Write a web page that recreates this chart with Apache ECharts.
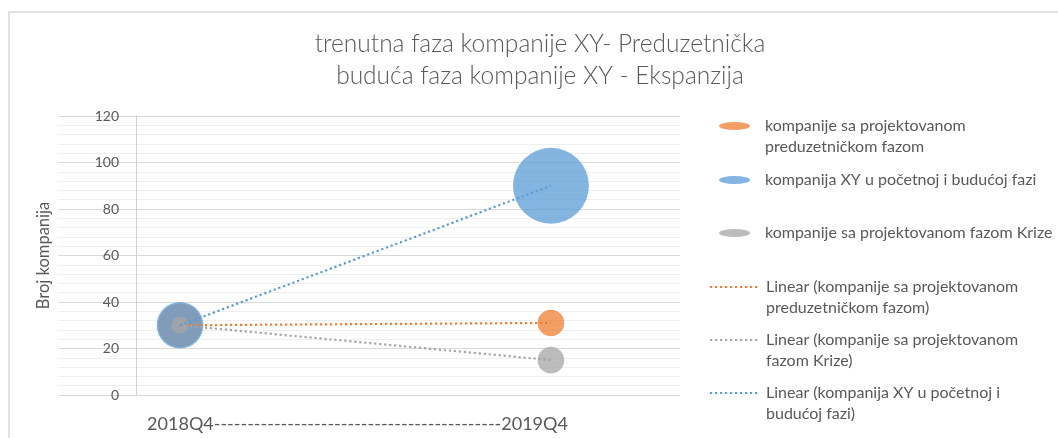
<!DOCTYPE html>
<html>
<head>
<meta charset="utf-8">
<script src="https://cdn.jsdelivr.net/npm/echarts@6/dist/echarts.min.js"></script>
<style>
    html, body { margin: 0; padding: 0; background: #fff; }
    #chart { width: 1058px; height: 438px; }
</style>
</head>
<body>
<div id="chart"></div>
<script>
// podaci
const quarters = ['2018Q4', '2019Q4'];
const quarterX = [1, 2];
const bubbleNames = [
    'kompanije sa projektovanom preduzetničkom fazom',
    'kompanija XY u početnoj i budućoj fazi',
    'kompanije sa projektovanom fazom Krize'
];
const orangeValues = [30, 31];
const orangeSizes = [30, 11];
const blueValues = [30, 90];
const blueSizes = [34, 90];
const greyValues = [30, 15];
const greySizes = [4.5, 11];
const legendLabels = [
    'kompanije sa projektovanom\npreduzetničkom fazom',
    'kompanija XY u početnoj i budućoj fazi',
    'kompanije sa projektovanom fazom Krize',
    'Linear (kompanije sa projektovanom\npreduzetničkom fazom)',
    'Linear (kompanije sa projektovanom\nfazom Krize)',
    'Linear (kompanija XY u početnoj i\nbudućoj fazi)'
];

const txt = '#595959';
const font = 'Lato, "Open Sans", sans-serif';
const colors = { orange: '#ed7d31', blue: '#5b9bd5', grey: '#a5a5a5' };

// linearni trend (least squares) preko x raspona
const linearFit = (xs, ys) => {
    const n = xs.length;
    const mx = xs.reduce((a, b) => a + b, 0) / n;
    const my = ys.reduce((a, b) => a + b, 0) / n;
    let num = 0, den = 0;
    xs.forEach((x, i) => { num += (x - mx) * (ys[i] - my); den += (x - mx) * (x - mx); });
    const b = num / den, a = my - b * mx;
    const x0 = Math.min(...xs), x1 = Math.max(...xs);
    return [[x0, a + b * x0], [x1, a + b * x1]];
};

const bubble = (name, values, sizes, color) => ({
    name,
    type: 'scatter',
    data: quarterX.map((x, i) => [x, values[i], sizes[i]]),
    symbolSize: (v) => 8 * Math.sqrt(v[2]),
    itemStyle: { color, opacity: 0.75 },
    emphasis: { disabled: true }
});
const trend = (name, values, color) => ({
    name: 'Linear (' + name + ')',
    type: 'line',
    data: linearFit(quarterX, values),
    symbol: 'none',
    itemStyle: { color },
    lineStyle: { color, width: 2.2, type: [2.2, 2.8] },
    emphasis: { disabled: true }
});

const ellipse = 'path://M0,4A15.5,4,0,1,1,31,4A15.5,4,0,1,1,0,4Z';
const legendTops = [94.5, 169.5, 222.5, 255.5, 308.5, 361.5];
const seriesNames = bubbleNames.concat([0, 2, 1].map((i) => 'Linear (' + bubbleNames[i] + ')'));

const legends = seriesNames.map((name, i) => {
    const isLine = i >= 3;
    const label = legendLabels[i];
    const item = {
        data: [name],
        left: isLine ? 709 : 719,
        top: legendTops[i],
        padding: 0,
        itemWidth: isLine ? 49 : 31,
        itemHeight: 8,
        selectedMode: false,
        formatter: () => (label.indexOf('\n') >= 0 ? '\n' + label : label),
        textStyle: {
            color: txt,
            fontFamily: font,
            fontSize: 16,
            lineHeight: 21,
            padding: [0, 0, 0, isLine ? 2 : 10]
        }
    };
    if (isLine) {
        // samo tačkasta linija, bez simbola u sredini
        item.itemStyle = { color: 'rgba(0,0,0,0)', borderWidth: 0, opacity: 0 };
    } else {
        item.icon = ellipse;
    }
    return item;
});

const chart = echarts.init(document.getElementById('chart'));
chart.setOption({
    animation: false,
    backgroundColor: '#fff',
    graphic: [{
        type: 'rect',
        z: -10,
        shape: { x: 9, y: 12, width: 1200, height: 600 },
        style: { fill: 'none', stroke: '#d9d9d9', lineWidth: 1.5 }
    }],
    title: {
        text: 'trenutna faza kompanije XY- Preduzetnička\nbuduća faza kompanije XY - Ekspanzija',
        left: 540,
        top: 28,
        padding: 0,
        textAlign: 'center',
        textStyle: { color: txt, fontFamily: font, fontSize: 24.5, fontWeight: 300, lineHeight: 32 }
    },
    legend: legends,
    grid: { left: 58, right: 378, top: 116, bottom: 43, outerBoundsMode: 'none' },
    xAxis: {
        type: 'value',
        min: 0.671,
        max: 2.348,
        name: quarters.join('-'.repeat(43)),
        nameLocation: 'middle',
        nameGap: 20,
        nameTextStyle: { color: txt, fontFamily: font, fontSize: 18, padding: [0, 23, 0, 0] },
        axisLine: { show: false },
        axisTick: { show: false },
        axisLabel: { show: false },
        splitLine: { show: false }
    },
    yAxis: {
        type: 'value',
        min: 0,
        max: 120,
        interval: 20,
        offset: -78,
        name: 'Broj kompanija',
        nameLocation: 'middle',
        nameGap: 84,
        nameTextStyle: { color: txt, fontFamily: font, fontSize: 16.5 },
        axisLine: { show: true, onZero: false, lineStyle: { color: '#d0d0d0' } },
        axisTick: { show: false },
        axisLabel: { margin: 17, color: txt, fontFamily: font, fontSize: 14 },
        splitLine: { lineStyle: { color: '#d9d9d9' } },
        minorTick: { show: false, splitNumber: 5 },
        minorSplitLine: { show: true, lineStyle: { color: '#efefef' } }
    },
    series: [
        bubble(bubbleNames[0], orangeValues, orangeSizes, colors.orange),
        bubble(bubbleNames[1], blueValues, blueSizes, colors.blue),
        bubble(bubbleNames[2], greyValues, greySizes, colors.grey),
        trend(bubbleNames[0], orangeValues, colors.orange),
        trend(bubbleNames[2], greyValues, colors.grey),
        trend(bubbleNames[1], blueValues, colors.blue)
    ]
});
</script>
</body>
</html>
